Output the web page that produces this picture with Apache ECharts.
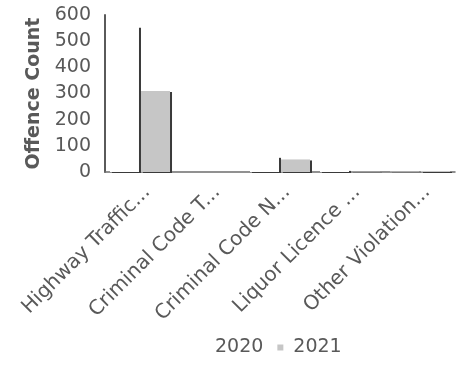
<!DOCTYPE html>
<html>
<head>
<meta charset="utf-8">
<script src="https://cdn.jsdelivr.net/npm/echarts@6/dist/echarts.min.js"></script>
<style>
  html, body { margin: 0; padding: 0; background: #fff; }
  #chart { width: 457px; height: 372px; }
</style>
</head>
<body>
<div id="chart"></div>
<script>
// categories (labels as shown, already cut off)
const categories = ["Highway Traffic...", "Criminal Code T...", "Criminal Code N...", "Liquor Licence ...", "Other Violation..."];
const seriesNames = ["2020", "2021"];
const values2020 = [555, 0, 58, 8, 1];
const values2021 = [310, 0, 48, 1, 4];
const yTicks = [0, 100, 200, 300, 400, 500, 600];

const textColor = "#595959";
const font = "DejaVu Sans";

// bar look: flat fill + a hard 2px shadow on the right edge
const barStyle = (fill) => ({
    color: fill,
    shadowColor: "#3a3a3a",
    shadowBlur: 0,
    shadowOffsetX: 2,
    shadowOffsetY: 1
});

const chart = echarts.init(document.getElementById("chart"));
chart.setOption({
    animation: false,
    textStyle: { fontFamily: font, color: textColor },
    grid: { left: 105, right: 2, top: 15, bottom: 200 },
    legend: {
        data: seriesNames,
        left: 194,
        top: 333,
        itemWidth: 6,
        itemHeight: 6,
        itemGap: 14,
        icon: "rect",
        textStyle: { fontFamily: font, fontSize: 19, color: textColor, padding: [0, 0, 0, 5] }
    },
    xAxis: {
        type: "category",
        data: categories,
        axisLine: { lineStyle: { color: "#6e6e6e", width: 1.5 } },
        axisTick: { show: false },
        axisLabel: {
            interval: 0,
            rotate: 45,
            margin: 10,
            align: "right",
            verticalAlign: "top",
            fontSize: 20,
            fontFamily: font,
            color: textColor
        }
    },
    yAxis: {
        type: "value",
        min: yTicks[0],
        max: yTicks[yTicks.length - 1],
        interval: 100,
        name: "Offence Count",
        nameLocation: "middle",
        nameGap: 60,
        nameTextStyle: { fontFamily: font, fontSize: 19, fontWeight: "bold", color: textColor },
        axisLine: { show: true, lineStyle: { color: "#5a5a5a", width: 2 } },
        axisTick: { show: false },
        splitLine: { show: false },
        axisLabel: { fontSize: 19, fontFamily: font, color: textColor, margin: 14 }
    },
    series: [
        {
            name: seriesNames[0],
            type: "bar",
            data: values2020,
            barWidth: 29,
            barGap: "7%",
            itemStyle: barStyle("#ffffff")
        },
        {
            name: seriesNames[1],
            type: "bar",
            data: values2021,
            barWidth: 29,
            itemStyle: barStyle("#c6c6c6")
        }
    ]
});
</script>
</body>
</html>
